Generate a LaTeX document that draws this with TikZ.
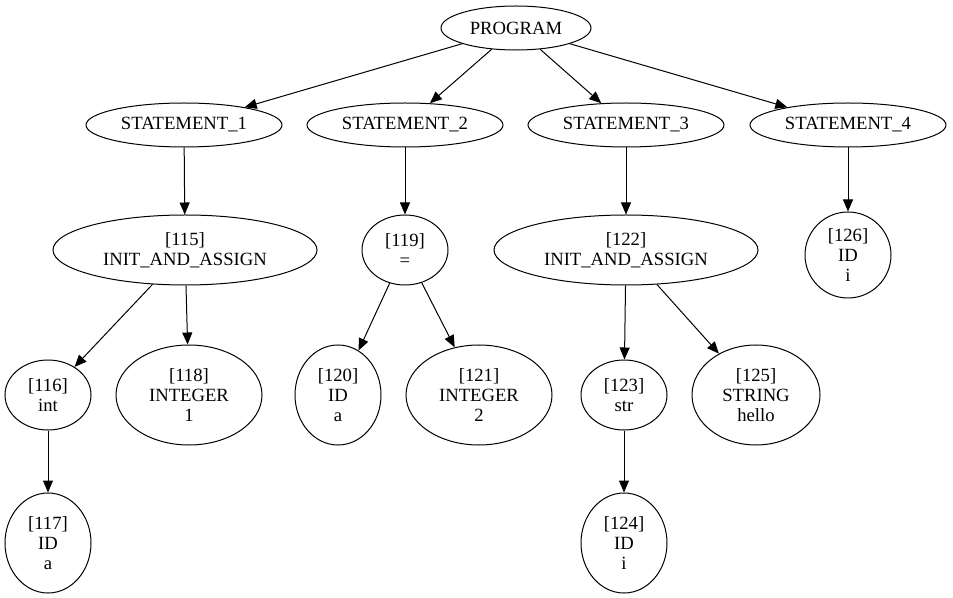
\documentclass[tikz,border=0pt]{standalone}
\usepackage{fontspec}
\setmainfont{Liberation Serif}
\usetikzlibrary{shapes.geometric,arrows.meta}
\begin{document}
\begin{tikzpicture}[x=0.75pt,y=-0.75pt,
  el/.style 2 args={ellipse,draw,line width=0.75pt,inner sep=0pt,align=center,
    font=\fontsize{14}{15}\selectfont,
    minimum width={#1*1.5pt},minimum height={#2*1.5pt}},
  edge/.style={draw,line width=0.75pt,-{Triangle[length=9pt,width=7.5pt]}}]
\useasboundingbox (0,0) rectangle (953,598);
% root and statements
\node[el={75}{22}] (prog) at (516,28) {PROGRAM};
\node[el={98}{22}] (s1) at (184,125) {STATEMENT\_1};
\node[el={98}{22}] (s2) at (405,125) {STATEMENT\_2};
\node[el={98}{22}] (s3) at (626,125) {STATEMENT\_3};
\node[el={98}{22}] (s4) at (848,125) {STATEMENT\_4};
% second level
\node[el={132}{35}] (n115) at (185,250) {[115]\\INIT\_AND\_ASSIGN};
\node[el={43}{35}] (n119) at (405,250) {[119]\\=};
\node[el={132}{35}] (n122) at (626,250) {[122]\\INIT\_AND\_ASSIGN};
\node[el={43}{43}] (n126) at (848,255) {[126]\\ID\\i};
% third level
\node[el={43}{35}] (n116) at (48,395) {[116]\\int};
\node[el={73}{50}] (n118) at (189,395) {[118]\\INTEGER\\1};
\node[el={43}{50}] (n120) at (338,395) {[120]\\ID\\a};
\node[el={73}{50}] (n121) at (479,395) {[121]\\INTEGER\\2};
\node[el={43}{35}] (n123) at (624,395) {[123]\\str};
\node[el={64}{50}] (n125) at (756,395) {[125]\\STRING\\hello};
% leaves
\node[el={43}{50}] (n117) at (48,543) {[117]\\ID\\a};
\node[el={43}{50}] (n124) at (624,543) {[124]\\ID\\i};
% edges
\foreach \a/\b in {prog/s1,prog/s2,prog/s3,prog/s4,s1/n115,s2/n119,s3/n122,s4/n126,
  n115/n116,n115/n118,n119/n120,n119/n121,n122/n123,n122/n125,n116/n117,n123/n124}
  \path[edge] (\a) -- (\b);
\end{tikzpicture}
\end{document}
